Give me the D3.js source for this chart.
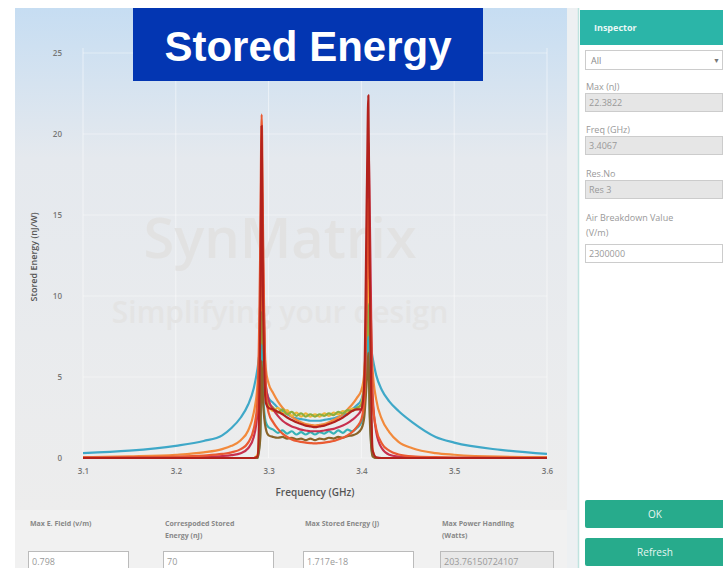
<!DOCTYPE html>
<html><head><meta charset="utf-8">
<script src="https://cdn.jsdelivr.net/npm/d3@7"></script>
<style>
html,body{margin:0;padding:0;background:#fff;}
svg{display:block;}
</style></head>
<body>
<svg id="c" width="723" height="568"></svg>
<script>
// ---- data ----
const freq = [3.100,3.150,3.200,3.230,3.250,3.260,3.270,3.278,3.284,3.288,3.291,3.2925,3.294,3.297,3.300,3.305,3.310,3.315,3.320,3.325,3.330,3.335,3.340,3.345,3.350,3.355,3.360,3.365,3.370,3.375,3.380,3.385,3.390,3.395,3.400,3.403,3.406,3.4075,3.409,3.412,3.416,3.422,3.430,3.440,3.455,3.480,3.500,3.550,3.600];

const resCyan   = [0.30,0.45,0.75,1.05,1.40,1.85,2.50,3.30,4.30,5.50,6.80,7.30,6.00,4.40,3.70,3.40,3.10,2.90,2.70,2.55,2.45,2.40,2.35,2.30,2.30,2.30,2.35,2.40,2.45,2.55,2.65,2.80,3.00,3.25,3.60,4.40,5.80,6.90,7.20,6.20,5.10,4.20,3.50,2.90,2.20,1.30,0.95,0.50,0.25];
const resOrange = [0.05,0.10,0.20,0.35,0.55,0.75,1.10,1.70,2.80,4.50,8.50,12.5,10.0,5.50,4.60,4.00,3.50,3.10,2.80,2.55,2.35,2.20,2.10,2.05,2.00,2.05,2.10,2.20,2.35,2.50,2.70,3.00,3.30,3.70,4.20,5.20,9.00,13.0,11.0,5.50,3.60,2.40,1.60,1.00,0.60,0.30,0.20,0.08,0.05];
const resYellow = [0,0,0,0,0,0,0,0,0,0.20,4.00,10.5,7.00,4.00,3.30,2.90,3.10,2.75,2.95,2.60,2.80,2.55,2.75,2.55,2.70,2.55,2.75,2.60,2.80,2.70,2.90,2.80,3.05,3.00,3.40,4.80,9.00,11.0,5.00,0.50,0,0,0,0,0,0,0,0,0];
const resGreen  = [0,0,0,0,0,0,0,0,0,0,2.50,9.00,6.00,3.80,3.40,3.10,2.80,3.00,2.70,2.85,2.60,2.75,2.55,2.70,2.55,2.70,2.60,2.75,2.65,2.85,2.75,2.95,2.90,3.10,3.30,4.20,7.00,9.50,5.00,0.30,0,0,0,0,0,0,0,0,0];
const resTeal   = [0,0,0,0,0,0,0,0,0,0,1.50,7.00,4.00,2.20,1.90,1.75,1.55,1.70,1.50,1.65,1.45,1.60,1.45,1.60,1.45,1.60,1.50,1.65,1.50,1.70,1.55,1.75,1.65,1.85,2.20,3.00,6.00,7.50,3.00,0.20,0,0,0,0,0,0,0,0,0];
const resBrown  = [0,0,0,0,0,0,0,0,0,0,1.20,6.00,3.50,1.80,1.40,1.30,1.25,1.30,1.20,1.25,1.15,1.20,1.10,1.20,1.10,1.20,1.15,1.25,1.20,1.30,1.25,1.35,1.40,1.50,1.80,2.50,5.00,6.50,2.50,0.10,0,0,0,0,0,0,0,0,0];
const resCrimson= [0.01,0.02,0.04,0.07,0.12,0.18,0.30,0.60,1.30,2.80,10.0,17.0,12.0,4.50,3.60,3.00,2.60,2.30,2.10,1.95,1.85,1.75,1.70,1.65,1.65,1.65,1.70,1.75,1.80,1.90,2.00,2.15,2.35,2.60,3.00,4.00,12.0,19.5,15.0,4.00,1.60,0.60,0.20,0.08,0.03,0.01,0.01,0,0];
const resRedOr  = [0.02,0.04,0.08,0.15,0.25,0.35,0.55,0.95,1.80,3.50,13.0,21.2,14.0,4.00,2.80,2.20,1.80,1.50,1.30,1.15,1.05,1.00,0.95,0.92,0.90,0.92,0.95,1.00,1.05,1.15,1.25,1.40,1.60,1.90,2.40,3.50,11.0,16.0,11.0,3.50,1.80,0.90,0.45,0.22,0.10,0.05,0.03,0.02,0.01];
const resDarkRed= [0,0,0,0,0,0,0,0,0,0.10,8.00,20.5,10.0,3.40,3.10,3.00,2.85,2.70,2.50,2.35,2.20,2.10,2.00,1.95,1.90,1.95,2.00,2.10,2.20,2.35,2.50,2.70,2.90,3.00,3.00,4.50,17.0,22.38,12.0,0.50,0.05,0,0,0,0,0,0,0,0];

const seriesNames  = ["Res 1","Res 2","Res 3","Res 4","Res 5","Res 6","Res 7","Res 8","Res 9"];
const seriesValues = [resCyan,resOrange,resYellow,resGreen,resTeal,resBrown,resCrimson,resRedOr,resDarkRed];
const seriesColors = ["#3fa8c8","#f28a3c","#f0b43a","#8cae3e","#36b2b6","#8a6428","#c8304e","#ea5a32","#b3221c"];

const xTicks = [3.1,3.2,3.3,3.4,3.5,3.6];
const yTicks = [0,5,10,15,20,25];

const inspectorFields = [
  {label:"Max (nJ)", value:"22.3822", bg:"#e6e6e6"},
  {label:"Freq (GHz)", value:"3.4067", bg:"#e6e6e6"},
  {label:"Res.No", value:"Res 3", bg:"#e6e6e6"}
];
const bottomLabels = [["Max E. Field (v/m)"],["Correspoded Stored","Energy (nJ)"],["Max Stored Energy (J)"],["Max Power Handling","(Watts)"]];
const bottomValues = ["0.798","70","1.717e-18","203.76150724107"];

// ---- drawing ----
const svg = d3.select("#c");
const defs = svg.append("defs");
const grad = defs.append("linearGradient").attr("id","bg").attr("x1",0).attr("y1",0).attr("x2",0).attr("y2",1);
grad.append("stop").attr("offset","0%").attr("stop-color","#c6ddf2");
grad.append("stop").attr("offset","30%").attr("stop-color","#e5e9ee");
grad.append("stop").attr("offset","100%").attr("stop-color","#ededed");

// chart panel
svg.append("rect").attr("x",15).attr("y",8).attr("width",552).attr("height",502).attr("fill","url(#bg)");
// bottom panel
svg.append("rect").attr("x",15).attr("y",510).attr("width",552).attr("height",58).attr("fill","#f1f1f1");
// side strip
svg.append("rect").attr("x",567).attr("y",8).attr("width",11).attr("height",560).attr("fill","#edf0f2");
svg.append("line").attr("x1",578.5).attr("x2",578.5).attr("y1",8).attr("y2",568).attr("stroke","#bfe3df").attr("stroke-width",1.5);

const x = d3.scaleLinear().domain([3.1,3.6]).range([83,547]);
const y = d3.scaleLinear().domain([0,25]).range([458,53]);

// grid
const g = svg.append("g");
g.selectAll(".vg").data(xTicks).join("line")
  .attr("x1",d=>x(d)).attr("x2",d=>x(d)).attr("y1",y(25)-5).attr("y2",y(0))
  .attr("stroke","#ffffff").attr("stroke-opacity",0.5).attr("stroke-width",1);
g.selectAll(".hg").data(yTicks).join("line")
  .attr("x1",x(3.1)).attr("x2",x(3.6)).attr("y1",d=>y(d)).attr("y2",d=>y(d))
  .attr("stroke","#ffffff").attr("stroke-opacity",0.4).attr("stroke-width",1);

// watermark
svg.append("text").attr("x",280).attr("y",258).attr("text-anchor","middle")
  .attr("font-family","Open Sans, sans-serif").attr("font-size",56).attr("font-weight",600)
  .attr("fill","#e2e2e2").text("SynMatrix");
svg.append("text").attr("x",280).attr("y",323).attr("text-anchor","middle")
  .attr("font-family","Open Sans, sans-serif").attr("font-size",30).attr("font-weight",600)
  .attr("fill","#e4e4e4").text("Simplifying your design");

// axes
const yAxis = d3.axisLeft(y).tickValues(yTicks).tickSize(0).tickPadding(21).tickFormat(d3.format("d"));
const ya = svg.append("g").attr("transform",`translate(${x(3.1)},0)`).call(yAxis);
ya.select(".domain").remove();
ya.selectAll("text").attr("font-family","Open Sans, sans-serif").attr("font-size",8).attr("font-weight",600).attr("fill","#777");

const xAxis = d3.axisBottom(x).tickValues(xTicks).tickSize(0).tickPadding(10).tickFormat(d3.format(".1f"));
const xa = svg.append("g").attr("transform",`translate(0,${y(0)})`).call(xAxis);
xa.select(".domain").remove();
xa.selectAll("text").attr("font-family","Open Sans, sans-serif").attr("font-size",8).attr("font-weight",600).attr("fill","#777");

svg.append("text").attr("x",315).attr("y",496).attr("text-anchor","middle")
  .attr("font-family","Open Sans, sans-serif").attr("font-size",10).attr("font-weight",600)
  .attr("fill","#555").text("Frequency (GHz)");
svg.append("text").attr("transform","translate(37,257) rotate(-90)").attr("text-anchor","middle")
  .attr("font-family","Open Sans, sans-serif").attr("font-size",9).attr("font-weight",600)
  .attr("fill","#555").text("Stored Energy (nJ/W)");

// lines
const line = d3.line().x((d,i)=>x(freq[i])).y(d=>y(d)).curve(d3.curveMonotoneX);
svg.append("g").selectAll("path").data(seriesValues).join("path")
  .attr("d",d=>line(d)).attr("fill","none")
  .attr("stroke",(d,i)=>seriesColors[i]).attr("stroke-width",2.2)
  .attr("stroke-linejoin","round");

// title box
svg.append("rect").attr("x",133).attr("y",8).attr("width",350).attr("height",73).attr("fill","#0336b2");
svg.append("text").attr("x",308).attr("y",61).attr("text-anchor","middle")
  .attr("font-family","Liberation Sans, Arial, sans-serif").attr("font-size",42).attr("font-weight",700)
  .attr("fill","#fff").text("Stored Energy");

// inspector
const ins = svg.append("g");
ins.append("rect").attr("x",580).attr("y",10).attr("width",143).attr("height",35).attr("fill","#2bb5a8");
ins.append("text").attr("x",594).attr("y",31).attr("font-family","Open Sans, sans-serif").attr("font-size",9)
  .attr("font-weight",700).attr("fill","#e8f8f6").text("Inspector");
ins.append("rect").attr("x",585.5).attr("y",50.5).attr("width",137).attr("height",19).attr("fill","#fff").attr("stroke","#ccc");
ins.append("text").attr("x",591).attr("y",64).attr("font-family","Open Sans, sans-serif").attr("font-size",9).attr("fill","#888").text("All");
ins.append("text").attr("x",713).attr("y",63).attr("font-family","Open Sans, sans-serif").attr("font-size",7).attr("fill","#777").text("▼");
const fy = [79,122,166];
inspectorFields.forEach((f,i)=>{
  ins.append("text").attr("x",586).attr("y",fy[i]+11).attr("font-family","Open Sans, sans-serif").attr("font-size",9).attr("fill","#999").text(f.label);
  ins.append("rect").attr("x",585.5).attr("y",fy[i]+14.5).attr("width",137).attr("height",18).attr("fill",f.bg).attr("stroke","#ccc");
  ins.append("text").attr("x",589).attr("y",fy[i]+27).attr("font-family","Open Sans, sans-serif").attr("font-size",9).attr("fill","#999").text(f.value);
});
ins.append("text").attr("x",586).attr("y",221).attr("font-family","Open Sans, sans-serif").attr("font-size",9).attr("fill","#999").text("Air Breakdown Value");
ins.append("text").attr("x",586).attr("y",236).attr("font-family","Open Sans, sans-serif").attr("font-size",9).attr("fill","#999").text("(V/m)");
ins.append("rect").attr("x",585.5).attr("y",244.5).attr("width",137).attr("height",18).attr("fill","#fff").attr("stroke","#ccc");
ins.append("text").attr("x",589).attr("y",257).attr("font-family","Open Sans, sans-serif").attr("font-size",9).attr("fill","#999").text("2300000");

[["OK",500],["Refresh",538]].forEach(([t,yy])=>{
  ins.append("rect").attr("x",585).attr("y",yy).attr("width",140).attr("height",28).attr("rx",2).attr("fill","#27ab8c");
  ins.append("text").attr("x",655).attr("y",yy+18).attr("text-anchor","middle").attr("font-family","Open Sans, sans-serif")
    .attr("font-size",10).attr("fill","#e6f6f1").text(t);
});

// bottom fields
const bx = [28,163,303,440];
const bw = [100,110,110,113];
bottomLabels.forEach((ls,i)=>{
  ls.forEach((l,j)=>{
    svg.append("text").attr("x",bx[i]+2).attr("y",526+j*12).attr("font-family","Open Sans, sans-serif").attr("font-size",7)
      .attr("font-weight",700).attr("fill","#888").text(l);
  });
  svg.append("rect").attr("x",bx[i]+0.5).attr("y",551.5).attr("width",bw[i]).attr("height",20)
    .attr("fill", i===3 ? "#e8e8e8" : "#fff").attr("stroke","#bbb");
  svg.append("text").attr("x",bx[i]+4).attr("y",565).attr("font-family","Open Sans, sans-serif").attr("font-size",9)
    .attr("fill","#999").text(bottomValues[i]);
});
</script>
</body></html>
